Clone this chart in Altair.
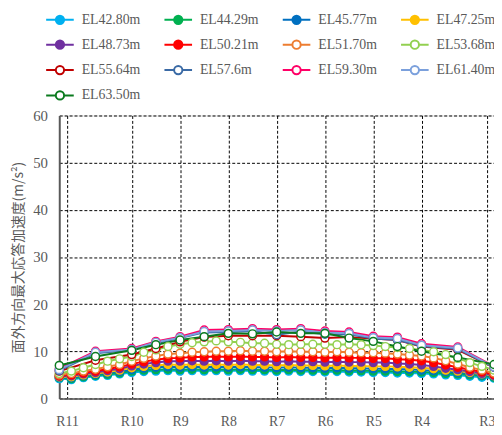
import altair as alt
import pandas as pd

# ---- data ----
series = ["EL42.80m", "EL44.29m", "EL45.77m", "EL47.25m", "EL48.73m", "EL50.21m",
          "EL51.70m", "EL53.68m", "EL55.64m", "EL57.6m", "EL59.30m", "EL61.40m", "EL63.50m"]
colors = ["#00B0F0", "#00B050", "#0070C0", "#FFC000", "#7030A0", "#FF0000",
          "#ED7D31", "#92D050", "#C00000", "#3A6AA5", "#FF0066", "#7BA0DC", "#0A7A1E"]
filled = [True, True, True, True, True, True, False, False, False, False, False, False, False]

# node stations along the wall (dense nodes for lower elevations, sparse for upper)
dense_x = list(range(37))
sparse_x = [0, 3, 6, 8, 10, 12, 14, 16, 18, 20, 22, 24, 26, 28, 30, 33, 36]

tick_pos = [0.65, 6, 10, 14, 18, 22, 26, 30, 35.4]
tick_lab = ["R11", "R10", "R9", "R8", "R7", "R6", "R5", "R4", "R3"]

el4280 = [4.2, 4.0, 4.4, 4.7, 4.9, 5.2, 5.5, 5.7, 5.8, 5.9, 5.8, 5.9, 5.8, 5.9, 5.8, 5.9, 5.8, 5.8, 5.7,
          5.8, 5.7, 5.7, 5.6, 5.7, 5.6, 5.6, 5.5, 5.5, 5.4, 5.4, 5.3, 5.2, 5.0, 4.9, 4.7, 4.5, 4.3]
el4429 = [4.4, 4.2, 4.6, 4.9, 5.1, 5.4, 5.8, 6.0, 6.1, 6.2, 6.1, 6.2, 6.1, 6.2, 6.1, 6.2, 6.1, 6.1, 6.0,
          6.1, 6.0, 6.0, 5.9, 6.0, 5.9, 5.9, 5.8, 5.8, 5.7, 5.7, 5.6, 5.5, 5.3, 5.2, 5.0, 4.8, 4.5]
el4577 = [4.5, 4.4, 4.8, 5.1, 5.4, 5.7, 6.1, 6.4, 6.6, 6.7, 6.6, 6.7, 6.6, 6.7, 6.6, 6.7, 6.6, 6.6, 6.5,
          6.6, 6.5, 6.5, 6.4, 6.5, 6.4, 6.4, 6.3, 6.3, 6.2, 6.2, 6.0, 5.9, 5.7, 5.5, 5.3, 5.0, 4.7]
el4725 = [4.6, 4.6, 5.0, 5.3, 5.6, 6.0, 6.5, 6.8, 7.0, 7.2, 7.1, 7.2, 7.1, 7.2, 7.1, 7.2, 7.1, 7.1, 7.0,
          7.1, 7.0, 7.0, 6.9, 7.0, 6.9, 6.9, 6.8, 6.8, 6.7, 6.6, 6.5, 6.3, 6.0, 5.8, 5.5, 5.2, 4.8]
el4873 = [4.7, 4.8, 5.2, 5.5, 5.9, 6.3, 6.9, 7.3, 7.6, 7.9, 7.9, 8.0, 7.9, 8.0, 7.9, 8.0, 7.9, 7.9, 7.8,
          7.9, 7.8, 7.8, 7.7, 7.8, 7.7, 7.7, 7.6, 7.6, 7.4, 7.3, 7.1, 6.8, 6.4, 6.1, 5.7, 5.3, 4.9]
el5021 = [4.8, 5.0, 5.4, 5.8, 6.2, 6.7, 7.3, 7.8, 8.2, 8.5, 8.6, 8.8, 8.8, 8.9, 8.8, 8.9, 8.8, 8.8, 8.7,
          8.8, 8.7, 8.7, 8.6, 8.7, 8.6, 8.6, 8.5, 8.5, 8.3, 8.2, 8.0, 7.6, 7.1, 6.6, 6.1, 5.6, 5.1]
el5170 = [5.0, 5.3, 5.8, 6.2, 6.7, 7.2, 7.9, 8.5, 9.0, 9.4, 9.6, 9.8, 9.9, 10.0, 10.0, 10.1, 10.0, 10.0, 9.9,
          10.0, 9.9, 9.9, 9.8, 9.9, 9.8, 9.7, 9.7, 9.6, 9.4, 9.2, 9.0, 8.6, 8.0, 7.3, 6.6, 6.0, 5.4]
el5368 = [5.3, 5.8, 6.5, 7.2, 7.9, 8.4, 8.9, 9.8, 10.3, 11.0, 11.5, 11.8, 12.0, 12.2, 12.0, 11.9, 11.7, 11.7, 11.5,
          11.4, 11.5, 11.5, 11.5, 11.4, 11.5, 11.4, 11.2, 11.0, 10.8, 10.6, 10.3, 9.9, 9.3, 8.5, 7.6, 6.8, 6.0]
el5564 = [5.8, 8.1, 9.3, 10.6, 12.0, 13.0, 13.3, 13.3, 13.3, 13.1, 12.8, 13.0, 12.7, 12.4, 11.0, 10.3, 6.6]
el5760 = [5.9, 9.6, 10.3, 11.7, 12.8, 14.0, 14.1, 14.3, 13.5, 14.2, 13.6, 13.6, 12.7, 12.4, 11.1, 10.5, 6.6]
el5930 = [6.3, 10.0, 10.6, 12.1, 13.1, 14.5, 14.6, 14.8, 14.6, 14.8, 14.3, 14.1, 13.2, 13.0, 11.6, 10.9, 6.8]
el6140 = [6.1, 9.8, 10.4, 11.9, 12.9, 14.2, 14.3, 14.5, 14.3, 14.5, 14.0, 13.8, 12.9, 12.7, 11.3, 10.7, 6.7]
el6350 = [7.0, 8.9, 10.2, 11.4, 12.4, 13.1, 13.8, 13.7, 14.1, 13.8, 13.8, 12.8, 12.1, 11.0, 10.0, 8.7, 7.2]

values = [el4280, el4429, el4577, el4725, el4873, el5021, el5170, el5368,
          el5564, el5760, el5930, el6140, el6350]

rows = []
for name, vals in zip(series, values):
    xs = dense_x if len(vals) == len(dense_x) else sparse_x
    for xv, yv in zip(xs, vals):
        rows.append({"series": name, "x": xv, "y": yv})
df = pd.DataFrame(rows)

fill_range = [c if f else "#FFFFFF" for c, f in zip(colors, filled)]

gray = "#595959"
serif = "Liberation Serif"
legend_path = "M-2,0L-0.6,0M0.6,0L2,0M0.6,0A0.6,0.6,0,1,1,-0.6,0A0.6,0.6,0,1,1,0.6,0Z"

leg = alt.Legend(
    title=None, orient="none", legendX=-13.3, legendY=-105.5, columns=4,
    direction="horizontal", gridAlign="all", columnPadding=20, rowPadding=7.7,
    symbolType=legend_path, symbolSize=196, symbolStrokeWidth=2, symbolOffset=6,
    labelOffset=14, labelFont=serif, labelFontSize=14, labelColor=gray,
    padding=0, labelLimit=200,
)

label_expr = "[" + ",".join("'%s'" % t for t in tick_lab) + "][indexof([" + \
    ",".join(str(p) for p in tick_pos) + "], datum.value)]"

x_enc = alt.X("x:Q", scale=alt.Scale(domain=[0, 36], nice=False, zero=False),
              axis=alt.Axis(values=tick_pos, labelExpr=label_expr, title=None, ticks=False,
                            labelPadding=16, labelFont=serif, labelFontSize=14,
                            labelColor=gray, grid=True, gridDash=[3, 2], gridColor="#000000",
                            gridWidth=1, domainColor=gray, domainWidth=1.5, labelFlush=False))
y_enc = alt.Y("y:Q", scale=alt.Scale(domain=[0, 60], nice=False),
              axis=alt.Axis(values=[0, 10, 20, 30, 40, 50, 60], title="面外方向最大応答加速度(m/s²)",
                            ticks=False, labelPadding=12, labelFont=serif,
                            labelFontSize=15, labelColor=gray, grid=True, gridDash=[3, 2],
                            gridColor="#000000", gridWidth=1, domainColor=gray, domainWidth=2,
                            titleFont="Noto Sans CJK JP", titleFontSize=14, titleFontWeight="normal",
                            titleColor=gray, titleAngle=270, titleAlign="center",
                            titleBaseline="middle", titleX=-41, titleY=143.5))

stroke_scale = alt.Scale(domain=series, range=colors)
fill_scale = alt.Scale(domain=series, range=fill_range)

lines = alt.Chart(df).mark_line(strokeWidth=2).encode(
    x=x_enc, y=y_enc,
    stroke=alt.Stroke("series:N", scale=stroke_scale, legend=leg, sort=series),
    detail="series:N",
    order="x:Q",
)

points = alt.Chart(df).mark_circle(size=64, strokeWidth=1.5, opacity=1).encode(
    x=x_enc, y=y_enc,
    stroke=alt.Stroke("series:N", scale=stroke_scale, legend=leg, sort=series),
    fill=alt.Fill("series:N", scale=fill_scale, legend=leg, sort=series),
)

chart = alt.layer(lines, points).properties(
    width=441, height=287,
    autosize=alt.AutoSizeParams(type="none"),
    padding={"left": 52, "top": 106, "right": 0, "bottom": 31},
).configure_view(stroke=None).configure_legend(
    labelFont=serif, labelFontSize=14, labelColor=gray
).configure(background="white")

chart.save("out.html", embed_options={"renderer": "svg", "actions": False})
